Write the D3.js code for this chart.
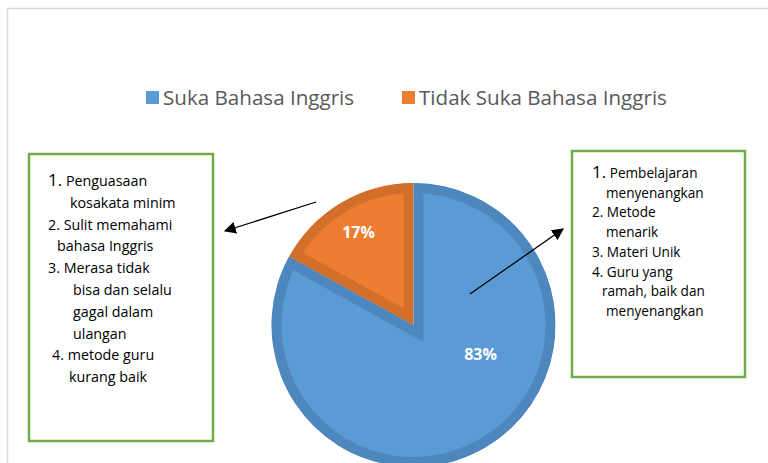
<!DOCTYPE html>
<html lang="id">
<head>
    <meta charset="UTF-8">
    <script src="https://d3js.org/d3.v7.min.js"></script>
    <style>
        body { margin: 0; background: #fff; font-family: "Open Sans", Arial, sans-serif; }
        .legend-text { font-size: 20.6px; fill: #595959; }
        .box-text { font-size: 14.3px; fill: #000; }
        .box-text-small { font-size: 13.6px; fill: #000; }
        .pct { font-size: 16px; font-weight: bold; fill: #fff; text-anchor: middle; }
    </style>
</head>
<body>
    <svg id="chart"></svg>
    <script>
        // data
        const categories = ["Suka Bahasa Inggris", "Tidak Suka Bahasa Inggris"];
        const values = [83, 17];
        const labels = ["83%", "17%"];

        // alasan tidak suka (kotak kiri)
        const alasanTidakSuka = [
            ["1.", " Penguasaan"], "kosakata minim", "2. Sulit memahami", "bahasa Inggris",
            "3. Merasa tidak", "bisa dan selalu", "gagal  dalam", "ulangan",
            "4. metode guru", "kurang baik"
        ];
        // alasan suka (kotak kanan)
        const alasanSuka = [
            ["1.", " Pembelajaran"], "menyenangkan", "2. Metode", "menarik",
            "3. Materi Unik", "4. Guru yang", "ramah, baik dan", "menyenangkan"
        ];

        const width = 768, height = 463;
        const fills = ["#5B9BD5", "#ED7D31"];
        const strokes = ["#4E87BE", "#D26F2B"];

        const svg = d3.select("#chart").attr("width", width).attr("height", height);

        // bingkai grafik
        svg.append("rect")
            .attr("x", 7.5).attr("y", 8.5)
            .attr("width", width + 20).attr("height", height + 20)
            .attr("fill", "none").attr("stroke", "#d9d9d9").attr("stroke-width", 1.5);

        // legend
        const legendX = [146, 402];
        const lg = svg.selectAll(".lg").data(categories).enter().append("g")
            .attr("transform", (d, i) => `translate(${legendX[i]},91)`);
        lg.append("rect").attr("width", 13).attr("height", 13).attr("fill", (d, i) => fills[i]);
        lg.append("text").attr("class", "legend-text").attr("x", 17).attr("y", 14).text(d => d);

        // pie
        const cx = 413.5, cy = 325, r = 142;
        const pie = d3.pie().sort(null).value(d => d);
        const arcs = pie(values);
        const arc = d3.arc().innerRadius(0).outerRadius(r);
        const defs = svg.append("defs");
        const pg = svg.append("g").attr("transform", `translate(${cx},${cy})`);

        arcs.forEach((a, i) => {
            defs.append("clipPath").attr("id", "clip" + i)
                .append("path").attr("d", arc(a));
            pg.append("path")
                .attr("d", arc(a))
                .attr("fill", fills[i])
                .attr("stroke", strokes[i])
                .attr("stroke-width", 20)
                .attr("stroke-linejoin", "miter")
                .attr("clip-path", `url(#clip${i})`);
        });

        // posisi label persentase (pecahan sudut dan radius dalam irisan)
        const labelAngleFrac = [0.38, 0.5];
        const labelRadiusFrac = [0.515, 0.76];
        arcs.forEach((a, i) => {
            const ang = a.startAngle + (a.endAngle - a.startAngle) * labelAngleFrac[i];
            const rr = r * labelRadiusFrac[i];
            pg.append("text").attr("class", "pct")
                .attr("x", Math.sin(ang) * rr)
                .attr("y", -Math.cos(ang) * rr)
                .attr("dy", "0.35em")
                .text(labels[i]);
        });

        // kotak teks
        function textBox(x, y, w, h, lines, indents, x0, y0, step, cls) {
            svg.append("rect").attr("x", x).attr("y", y).attr("width", w).attr("height", h)
                .attr("fill", "#fff").attr("stroke", "#70AD47").attr("stroke-width", 2.5);
            lines.forEach((ln, i) => {
                const t = svg.append("text").attr("class", cls)
                    .attr("x", x0 + indents[i]).attr("y", y0 + i * step);
                if (Array.isArray(ln)) {
                    t.append("tspan").style("font-size", "17px").text(ln[0]);
                    t.append("tspan").text(ln[1]);
                } else {
                    t.text(ln);
                }
            });
        }
        textBox(29, 154, 184, 287, alasanTidakSuka,
            [0, 22, 0, 9, 0, 25, 25, 25, 4, 21], 48, 186, 21.8, "box-text");
        textBox(572, 151, 173, 226, alasanSuka,
            [0, 14, 0, 14, 0, 0, 10, 14], 592, 178, 19.7, "box-text-small");

        // panah
        const marker = defs.append("marker").attr("id", "arrow")
            .attr("viewBox", "0 0 10 10").attr("refX", 9).attr("refY", 5)
            .attr("markerWidth", 12).attr("markerHeight", 12)
            .attr("markerUnits", "userSpaceOnUse").attr("orient", "auto");
        marker.append("path").attr("d", "M0,0L10,5L0,10Z").attr("fill", "#000");
        const arrows = [[316, 202, 225, 231], [470, 294, 563, 229]];
        svg.selectAll(".arr").data(arrows).enter().append("line")
            .attr("x1", d => d[0]).attr("y1", d => d[1])
            .attr("x2", d => d[2]).attr("y2", d => d[3])
            .attr("stroke", "#000").attr("stroke-width", 1.3)
            .attr("marker-end", "url(#arrow)");
    </script>
</body>
</html>
